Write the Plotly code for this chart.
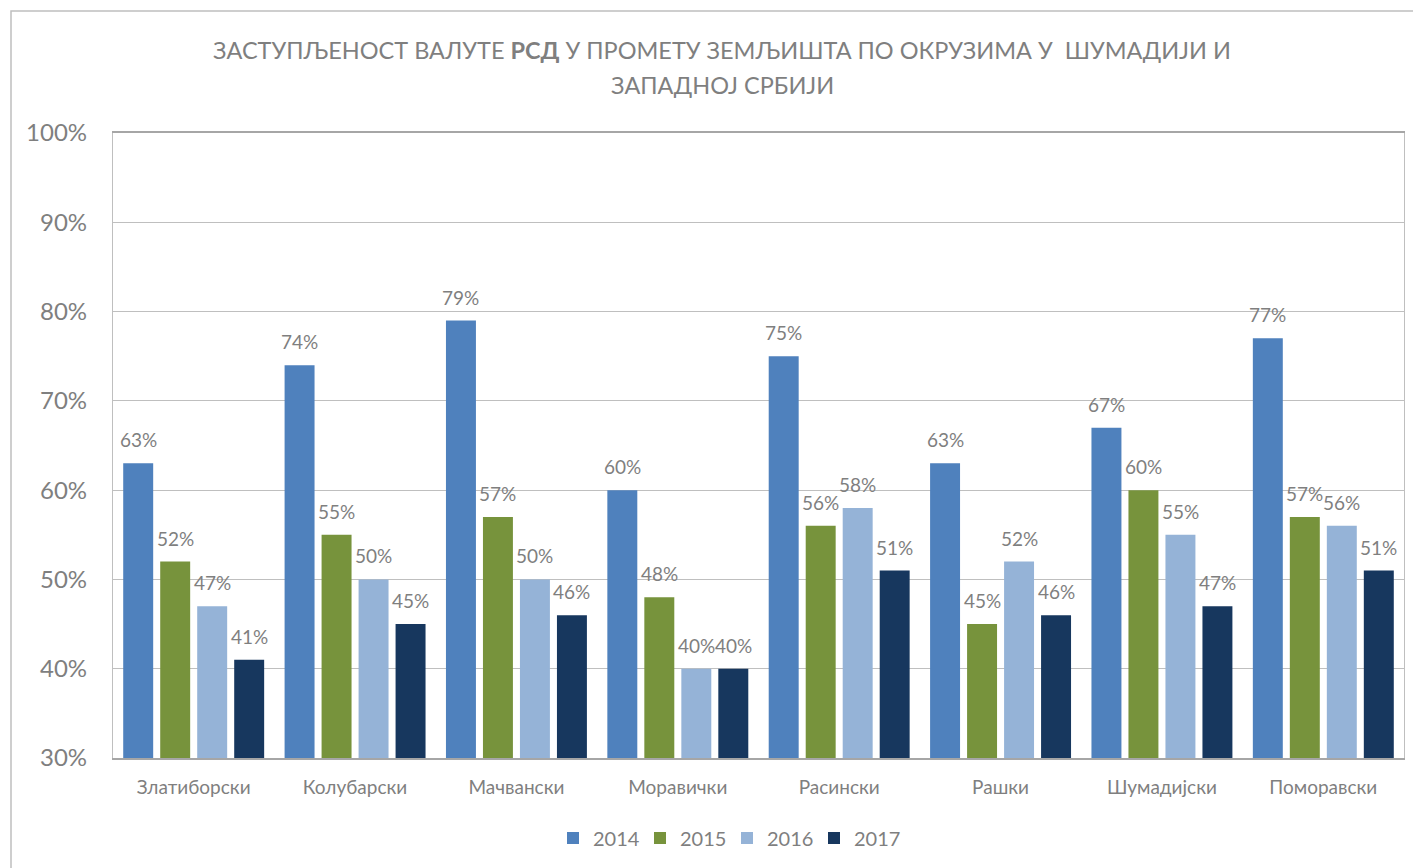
import plotly.graph_objects as go

categories = ["Златиборски", "Колубарски", "Мачвански", "Моравички",
              "Расински", "Рашки", "Шумадијски", "Поморавски"]
years = ["2014", "2015", "2016", "2017"]
v2014 = [0.63, 0.74, 0.79, 0.60, 0.75, 0.63, 0.67, 0.77]
v2015 = [0.52, 0.55, 0.57, 0.48, 0.56, 0.45, 0.60, 0.57]
v2016 = [0.47, 0.50, 0.50, 0.40, 0.58, 0.52, 0.55, 0.56]
v2017 = [0.41, 0.45, 0.46, 0.40, 0.51, 0.46, 0.47, 0.51]
series = [v2014, v2015, v2016, v2017]
colors = ["#4F81BD", "#77933C", "#95B3D7", "#17375E"]

FONT = "Lato, Open Sans, sans-serif"
GRAY = "#7F7F7F"

# page is rendered with an 8px body margin: compensate
OFF = 8
W, H = 1421, 868
L, R, T, B = 113 - OFF, 17 + OFF, 133 - OFF, 110 + OFF
pw, ph = W - L - R, H - T - B
BARGAP, GROUPGAP = 0.083, 0.19


def px_x(x):
    return (x - OFF - L) / pw


def px_y(y):
    return (H - B - (y - OFF)) / ph


fig = go.Figure()
for name, vals, col in zip(years, series, colors):
    fig.add_trace(go.Bar(
        x=categories, y=vals, name=name,
        marker=dict(color=col, line=dict(width=0)),
    ))

slot = pw / len(categories) * (1 - BARGAP) / len(years)
annotations = []
for i, vals in enumerate(series):
    for cat, v in zip(categories, vals):
        annotations.append(dict(
            x=cat, y=v, xref="x", yref="y", text=f"{round(v * 100)}%",
            showarrow=False, xanchor="center", yanchor="bottom",
            xshift=(i - (len(years) - 1) / 2) * slot, yshift=10,
            font=dict(family=FONT, size=19, color=GRAY)))

annotations += [
    dict(text="ЗАСТУПЉЕНОСТ ВАЛУТЕ <b>РСД</b> У ПРОМЕТУ ЗЕМЉИШТА ПО ОКРУЗИМА У  ШУМАДИЈИ И",
         xref="paper", yref="paper", x=px_x(722), y=px_y(50),
         xanchor="center", yanchor="middle", showarrow=False,
         font=dict(family=FONT, size=23.5, color=GRAY)),
    dict(text="ЗАПАДНОЈ СРБИЈИ",
         xref="paper", yref="paper", x=px_x(722), y=px_y(85),
         xanchor="center", yanchor="middle", showarrow=False,
         font=dict(family=FONT, size=23.5, color=GRAY)),
]

fig.update_layout(
    width=W, height=H,
    margin=dict(l=L, r=R, t=T, b=B),
    paper_bgcolor="white", plot_bgcolor="white",
    barmode="group", bargap=BARGAP, bargroupgap=GROUPGAP,
    font=dict(family=FONT, color=GRAY),
    showlegend=True,
    legend=dict(orientation="h", x=px_x(727), xanchor="center",
                y=px_y(838), yanchor="middle",
                font=dict(family=FONT, size=20, color=GRAY),
                itemwidth=30, traceorder="normal",
                entrywidth=42, entrywidthmode="pixels"),
    yaxis=dict(range=[0.3, 1.0], dtick=0.1, tickformat=".0%",
               showgrid=True, gridcolor="#BFBFBF", gridwidth=1.3,
               showline=True, linecolor="#BFBFBF", linewidth=1.3, mirror=True,
               zeroline=False, ticks="", ticklabelstandoff=20,
               tickfont=dict(family=FONT, size=24, color=GRAY)),
    xaxis=dict(showline=True, linecolor="#A6A6A6", linewidth=2, mirror=True,
               ticks="", ticklabelstandoff=11,
               tickfont=dict(family=FONT, size=19, color=GRAY)),
    shapes=[dict(type="rect", xref="paper", yref="paper",
                 x0=px_x(11), x1=px_x(1440), y0=px_y(890), y1=px_y(11),
                 line=dict(color="#BFBFBF", width=1.5), fillcolor="rgba(0,0,0,0)",
                 layer="below")],
    annotations=annotations,
)

fig.write_html("out.html")
